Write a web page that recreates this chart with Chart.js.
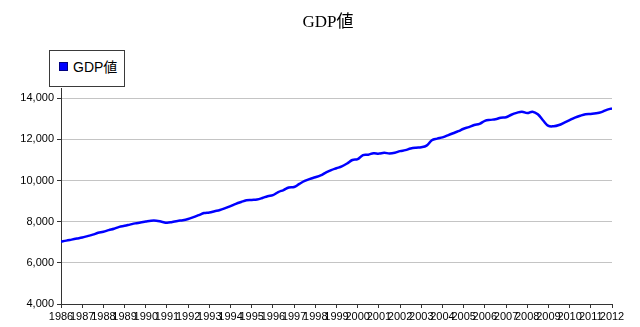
<!DOCTYPE html>
<html>
<head>
<meta charset="utf-8">
<script src="https://cdn.jsdelivr.net/npm/chart.js@4.4.1/dist/chart.umd.min.js"></script>
<style>
	body {margin: 0; background: #fff;}
	#wrap {position: relative; width: 640px; height: 327px;}
	#legend
	{
		position: absolute; left: 49px; top: 50px; width: 76px; height: 37px;
		box-sizing: border-box; border: 1px solid #3a3a3a; background: #fff;
		font-family: "Liberation Sans", "Noto Sans CJK JP", sans-serif; font-size: 14px; color: #000;
	}
	#legend .swatch
	{
		position: absolute; left: 9px; top: 11px; width: 9px; height: 9px;
		box-sizing: border-box; background: #0000ff; border: 1px solid #000080;
	}
	#legend .label {position: absolute; left: 23px; top: 7px; line-height: 18px; white-space: nowrap;}
</style>
</head>
<body>
<div id="wrap">
	<canvas id="chart" width="640" height="327"></canvas>
	<div id="legend"><span class="swatch"></span><span class="label">GDP値</span></div>
</div>
<script>
	var seriesName = 'GDP値';
	var startYear = 1986;
	var endYear = 2012;

	// quarterly values, 1986 Q1 .. 2012 Q1
	var gdp1986to1995 =
	[
		7040, 7080, 7130, 7180,
		7230, 7300, 7370, 7460,
		7510, 7590, 7660, 7750,
		7800, 7860, 7920, 7960,
		8010, 8050, 8050, 8000,
		7950, 7990, 8040, 8070,
		8130, 8220, 8320, 8420,
		8450, 8510, 8570, 8660,
		8760, 8870, 8960, 9040,
		9060, 9080, 9150, 9240
	];

	var gdp1996to2005 =
	[
		9290, 9440, 9540, 9660,
		9690, 9840, 9980, 10080,
		10160, 10250, 10390, 10510,
		10600, 10690, 10830, 11000,
		11040, 11240, 11260, 11330,
		11310, 11350, 11320, 11350,
		11430, 11480, 11560, 11600,
		11620, 11700, 11960, 12040,
		12100, 12200, 12300, 12400,
		12520, 12600, 12700, 12760
	];

	var gdp2006to2012 =
	[
		12900, 12950, 12980, 13050,
		13080, 13200, 13290, 13350,
		13280, 13350, 13220, 12920,
		12660, 12640, 12700, 12820,
		12940, 13060, 13150, 13220,
		13240, 13270, 13330, 13440,
		13510
	];

	var yTicks = [4000, 6000, 8000, 10000, 12000, 14000];

	var gdp = gdp1986to1995.concat(gdp1996to2005, gdp2006to2012);

	var points = gdp.map(function (value, index)
	{
		return {x: startYear + index / 4, y: value};
	});

	var tickFont = {family: '"Liberation Sans", Arial, sans-serif', size: 11};

	new Chart(document.getElementById('chart'),
	{
		type: 'line',
		data:
		{
			datasets:
			[{
				label: seriesName,
				data: points,
				borderColor: '#0000ff',
				borderWidth: 2.5,
				pointRadius: 0,
				tension: 0.4,
				fill: false
			}]
		},
		options:
		{
			responsive: false,
			animation: false,
			// left/right padding kept uneven so the title sits where the original has it
			layout: {padding: {left: 16, right: 0, top: 0, bottom: 0}},
			plugins:
			{
				legend: {display: false},
				tooltip: {enabled: false},
				title:
				{
					display: true,
					text: seriesName,
					color: '#000',
					font: {family: '"Liberation Serif", "Noto Sans CJK JP", serif', size: 17, weight: 'normal'},
					padding: {top: 12, bottom: 55.6}
				}
			},
			scales:
			{
				x:
				{
					type: 'linear',
					min: startYear,
					max: endYear,
					afterFit: function (scale) {scale.height = 23},
					ticks:
					{
						stepSize: 1,
						autoSkip: false,
						maxRotation: 0,
						minRotation: 0,
						padding: 2,
						color: '#000',
						font: tickFont,
						callback: function (value) {return String(value)}
					},
					grid: {drawOnChartArea: false, drawTicks: true, tickLength: 4, tickColor: '#333'},
					border: {color: '#333', width: 1}
				},
				y:
				{
					min: 4000,
					max: 14500,
					afterFit: function (scale) {scale.width = 45},
					afterBuildTicks: function (scale)
					{
						scale.ticks = yTicks.map(function (value) {return {value: value}});
					},
					ticks:
					{
						padding: 3,
						color: '#000',
						font: tickFont,
						callback: function (value) {return value.toLocaleString('en-US')}
					},
					grid: {color: '#c4c4c4', tickColor: '#333', tickLength: 4},
					border: {color: '#333', width: 1}
				},
				// empty right-hand axis, only reserves the right margin
				yRight:
				{
					position: 'right',
					display: true,
					afterFit: function (scale) {scale.width = 28},
					ticks: {display: false},
					grid: {display: false},
					border: {display: false}
				}
			}
		}
	});
</script>
</body>
</html>
